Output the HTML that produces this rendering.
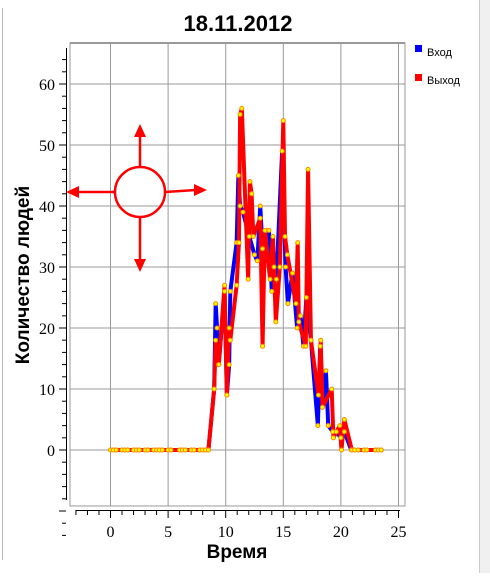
<!DOCTYPE html>
<html><head><meta charset="utf-8"><style>
body{margin:0;background:#fff;width:490px;height:573px;overflow:hidden}
svg text{font-family:"Liberation Serif","DejaVu Serif",serif}
</style></head><body>
<svg id="c" width="490" height="573" xmlns="http://www.w3.org/2000/svg">
<rect x="0" y="0" width="490" height="573" fill="#fff"/>
<line x1="2.5" y1="8" x2="2.5" y2="560" stroke="#bbb"/>
<rect x="479" y="0" width="11" height="573" fill="#f0f0f0"/>
<line x1="479.5" y1="0" x2="479.5" y2="573" stroke="#ccc"/>
<text x="238" y="31" text-anchor="middle" font-weight="bold" font-size="22" style="font-family:'Liberation Sans',sans-serif">18.11.2012</text>
<g id="grid"></g>
<g id="axes"></g>
<g id="series"></g>
<g fill="#f00" stroke="#f00">
<circle cx="140" cy="192" r="25" fill="none" stroke-width="2.5"/>
<line x1="140" y1="167" x2="140" y2="134" stroke-width="2.5"/><polygon points="140,124 134,137 146,137" stroke="none"/>
<line x1="140" y1="217" x2="140" y2="262" stroke-width="2.5"/><polygon points="140,272 134,259 146,259" stroke="none"/>
<line x1="115" y1="192" x2="76" y2="192" stroke-width="2.5"/><polygon points="66,192 79,186 79,198" stroke="none"/>
<line x1="165" y1="192" x2="196" y2="190" stroke-width="2.5"/><polygon points="207,190 194,184 194,196" stroke="none"/>
</g>
<g>
<g><rect x="415" y="45" width="7" height="7" fill="#00f"/><text x="427" y="56" font-size="11" style="font-family:'Liberation Sans',sans-serif">Вход</text></g>
<g><rect x="415" y="74" width="7" height="7" fill="#f00"/><text x="427" y="84" font-size="11" style="font-family:'Liberation Sans',sans-serif">Выход</text></g>
</g>
<text x="237" y="558" text-anchor="middle" font-weight="bold" font-size="19" style="font-family:'Liberation Sans',sans-serif">Время</text>
<text transform="translate(29,275) rotate(-90)" text-anchor="middle" font-weight="bold" font-size="19" style="font-family:'Liberation Sans',sans-serif">Количество людей</text>
</svg>
<script>
const zeroTimes=[0,0.25,0.5,1,1.25,1.5,2,2.25,2.5,3,3.25,3.75,4,4.25,4.5,5,5.25,6,6.25,6.5,7,7.25,7.75,8,8.25];
const blueT=[8.5,9.0,9.13,9.25,9.4,9.9,10.1,10.3,10.4,10.95,11.1,11.25,11.5,12.05,12.5,12.75,13.0,13.2,13.5,13.75,14.0,14.2,14.4,14.9,15.2,15.4,15.8,16.2,16.5,16.75,17.0,17.4,18.0,18.2,18.4,18.7,18.9,19.3,19.6,20.0,20.3,20.9,21.2,21.5,22,22.25,23,23.25,23.5];
const blueV=[0,10,24,20,14,26,9,14,26,34,45,40,39,35,32,31,40,33,36,36,26,30,28,49,30,24,29,20,22,17,25,18,4,17,7,13,4,3,3,2,3,0,0,0,0,0,0,0,0];
const redT=[8.5,9.0,9.13,9.4,9.9,10.1,10.3,10.4,10.95,11.15,11.25,11.4,11.95,12.1,12.25,12.4,13.0,13.2,13.4,13.85,14.1,14.35,14.7,15.0,15.15,15.35,16.1,16.25,16.35,16.95,17.15,17.4,18.05,18.25,18.4,19.2,19.35,19.9,20.05,20.3,20.95,21.2,21.5,22,22.25,23,23.25,23.5];
const redV=[0,10,18,14,27,9,20,18,27,34,55,56,28,44,42,35,38,17,36,28,35,21,30,54,35,32,24,34,21,17,46,18,9,18,7,10,2,4,0,5,0,0,0,0,0,0,0,0];
const xTicks=[0,5,10,15,20,25];
const yTicks=[0,10,20,30,40,50,60];
const NS="http://www.w3.org/2000/svg";
const X=t=>110.5+t*11.52, Y=v=>450-v*6.1;
function mk(tag,attrs,parent){const e=document.createElementNS(NS,tag);for(const k in attrs)e.setAttribute(k,attrs[k]);parent.appendChild(e);return e;}
const grid=document.getElementById('grid'),axes=document.getElementById('axes'),ser=document.getElementById('series');
mk('rect',{x:70,y:43,width:335,height:463,fill:'none',stroke:'#999','stroke-width':1},grid);
mk('line',{x1:70,y1:43,x2:405,y2:43,stroke:'#999','stroke-width':2},grid);
xTicks.forEach(t=>{const l=mk('line',{x1:X(t),y1:43,x2:X(t),y2:506,stroke:'#999'},grid);});
yTicks.forEach(v=>{const l=mk('line',{x1:70,y1:Y(v),x2:405,y2:Y(v),stroke:'#999'},grid);});
mk('line',{x1:66.5,y1:48,x2:66.5,y2:500,stroke:'#000'},axes);
for(let v=-14;v<=64;v+=2){const maj=v%10===0;mk('line',{x1:maj?59:62,y1:Y(v),x2:66,y2:Y(v),stroke:'#000'},axes);}
yTicks.forEach(v=>{const t=mk('text',{x:55,y:Y(v)+6,'text-anchor':'end','font-size':16},axes);t.textContent=v;});
mk('line',{x1:76,y1:510.5,x2:400,y2:510.5,stroke:'#000'},axes);
for(let t=-3;t<=25;t++){const maj=t%5===0;mk('line',{x1:X(t),y1:510,x2:X(t),y2:maj?518:515,stroke:'#000'},axes);}
xTicks.forEach(v=>{const t=mk('text',{x:X(v),y:537,'text-anchor':'middle','font-size':16},axes);t.textContent=v;});
function draw(ts,vs,color,name){
  const T=zeroTimes.concat(ts),V=zeroTimes.map(()=>0).concat(vs);
  const p=mk('polyline',{points:T.map((t,i)=>X(t)+','+Y(V[i])).join(' '),fill:'none',stroke:color,'stroke-width':4,'stroke-linejoin':'round'},ser);
  
  return [T,V];
}
const b=draw(blueT,blueV,'#00f','vhod');
const r=draw(redT,redV,'#f00','vyhod');
[b,r].forEach(([T,V])=>T.forEach((t,i)=>{const c=mk('circle',{cx:X(t),cy:Y(V[i]),r:2,fill:'#ff0',stroke:'#f80','stroke-width':1},ser);}));
</script>
</body></html>
